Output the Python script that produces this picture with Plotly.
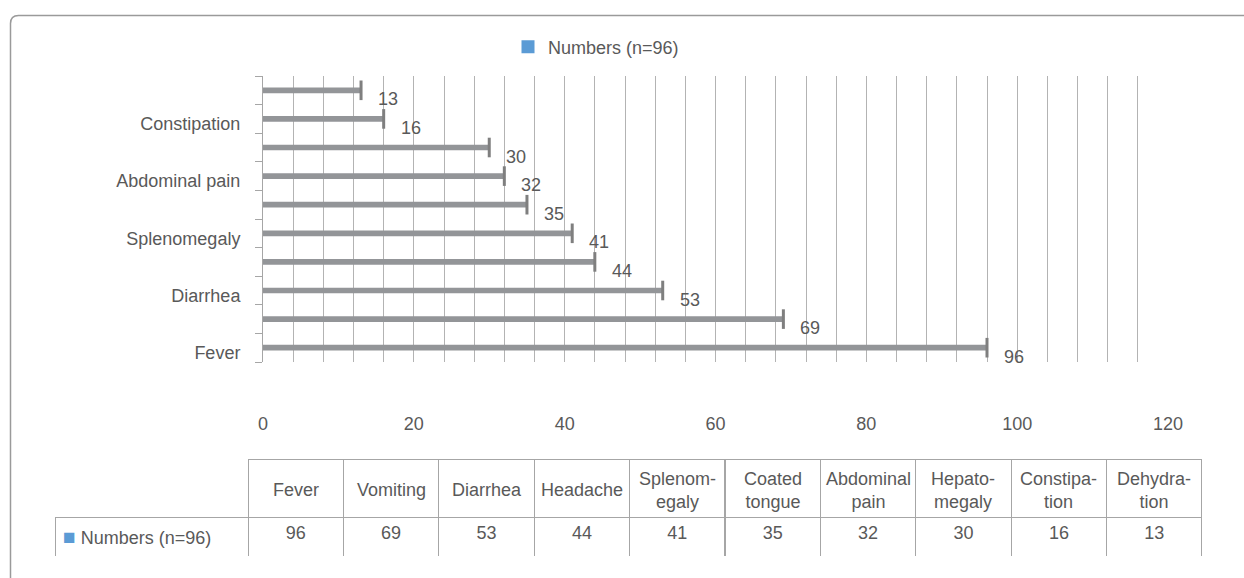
import plotly.graph_objects as go

# ---- data ----
categories = ["Fever", "Vomiting", "Diarrhea", "Headache", "Splenomegaly",
              "Coated tongue", "Abdominal pain", "Hepatomegaly", "Constipation", "Dehydration"]
values = [96, 69, 53, 44, 41, 35, 32, 30, 16, 13]
table_headers = ["Fever", "Vomiting", "Diarrhea", "Headache", "Splenom-<br>egaly",
                 "Coated<br>tongue", "Abdominal<br>pain", "Hepato-<br>megaly",
                 "Constipa-<br>tion", "Dehydra-<br>tion"]
series_name = "Numbers (n=96)"
ytick_shown = ["Fever", "Diarrhea", "Splenomegaly", "Abdominal pain", "Constipation"]
xtick_vals = [0, 20, 40, 60, 80, 100, 120]

W, H = 1244, 578
def px(x):
    return x / W
def py(y):
    return 1 - y / H

FONT = "Liberation Sans, Arial, sans-serif"
TXT = "#595959"
BAR = "#939598"
CAP = "#7f7f7f"
GRID = "#b3b3b3"
BORDER = "#a6a6a6"
BLUE = "#5B9BD5"

# table geometry (pixels)
TBL_LEFT, TBL_HEAD_LEFT, TBL_RIGHT = 55, 248, 1202
TBL_TOP, TBL_MID, TBL_BOTTOM = 459, 517, 556
COL_W = (TBL_RIGHT - TBL_HEAD_LEFT) / len(categories)

fig = go.Figure()

fig.add_trace(go.Bar(
    x=values, y=categories, orientation="h",
    marker=dict(color=BAR, line=dict(width=0)),
    width=0.2, showlegend=False, hoverinfo="x+y",
))
fig.add_trace(go.Scatter(
    x=values, y=categories, mode="markers",
    marker=dict(symbol="line-ns", size=14, line=dict(color=CAP, width=3)),
    showlegend=False, hoverinfo="skip",
))
# legend entry
fig.add_trace(go.Scatter(
    x=[None], y=[None], mode="markers", name=series_name,
    marker=dict(symbol="square", size=13, color=BLUE),
))

# data labels
for v, c in zip(values, categories):
    fig.add_annotation(x=v, y=c, text=str(v), showarrow=False,
                       xanchor="left", yanchor="middle", xshift=15, yshift=-9,
                       font=dict(size=18, color=TXT, family=FONT))

legend_cell = f'<span style="color:{BLUE};font-size:21px">■</span> {series_name}<br>'

# data table (header cells drawn by the table, header text centred with annotations)
fig.add_trace(go.Table(
    domain=dict(x=[px(TBL_LEFT), px(TBL_RIGHT)], y=[py(TBL_BOTTOM), py(TBL_TOP)]),
    columnwidth=[TBL_HEAD_LEFT - TBL_LEFT] + [COL_W] * len(categories),
    header=dict(
        values=[""] * (len(categories) + 1),
        height=TBL_MID - TBL_TOP,
        align="center",
        fill=dict(color=["rgba(0,0,0,0)"] + ["white"] * len(categories)),
        line=dict(color=["rgba(0,0,0,0)"] + [BORDER] * len(categories), width=1),
        font=dict(size=18, color=TXT, family=FONT),
    ),
    cells=dict(
        values=[[legend_cell]] + [[v] for v in values],
        height=TBL_BOTTOM - TBL_MID,
        align=["left"] + ["center"] * len(categories),
        fill=dict(color="white"),
        line=dict(color=BORDER, width=1),
        font=dict(size=18, color=TXT, family=FONT),
    ),
))
for i, h in enumerate(table_headers):
    fig.add_annotation(
        xref="paper", yref="paper",
        x=px(TBL_HEAD_LEFT + COL_W * (i + 0.5)), y=py((TBL_TOP + TBL_MID) / 2 + 2),
        text=h, showarrow=False, align="center",
        xanchor="center", yanchor="middle",
        font=dict(size=18, color=TXT, family=FONT),
    )

# outer rounded border
r = 8
x0, yt = px(10.5), py(15.5)
fig.add_shape(type="path", xref="paper", yref="paper",
              path=f"M {x0},-0.05 L {x0},{py(15.5 + r)} Q {x0},{yt} {px(10.5 + r)},{yt} L 1.05,{yt}",
              line=dict(color="#9a9a9a", width=1.5))

fig.update_layout(
    width=W, height=H,
    margin=dict(l=0, r=0, t=0, b=0, autoexpand=False),
    paper_bgcolor="white", plot_bgcolor="white",
    font=dict(family=FONT, size=18, color=TXT),
    showlegend=True,
    legend=dict(orientation="h", x=px(508), y=py(47), xanchor="left", yanchor="middle",
                font=dict(size=18, color=TXT), itemwidth=30, bgcolor="rgba(0,0,0,0)"),
    xaxis=dict(
        domain=[px(263), px(1168)], range=[0, 120], automargin=False,
        tickmode="array", tickvals=xtick_vals,
        showgrid=True, gridcolor=GRID, gridwidth=1,
        minor=dict(dtick=4, tick0=0, showgrid=True, gridcolor=GRID, gridwidth=1, ticks=""),
        zeroline=False, showline=False, ticks="",
        ticklabelstandoff=49,
        tickfont=dict(size=18, color=TXT),
    ),
    yaxis=dict(
        domain=[py(362), py(76)], type="category", automargin=False,
        categoryorder="array", categoryarray=categories,
        range=[-0.5, len(categories) - 0.5],
        tickmode="array", tickvals=categories,
        ticktext=[c if c in ytick_shown else "" for c in categories],
        tickson="boundaries", ticks="outside", ticklen=7, tickcolor=BORDER,
        showline=True, linecolor=BORDER, linewidth=1,
        showgrid=False, zeroline=False,
        ticklabelshift=5, ticklabelstandoff=18,
        tickfont=dict(size=18, color=TXT),
    ),
    bargap=0.8,
)

fig.write_html("out.html")
